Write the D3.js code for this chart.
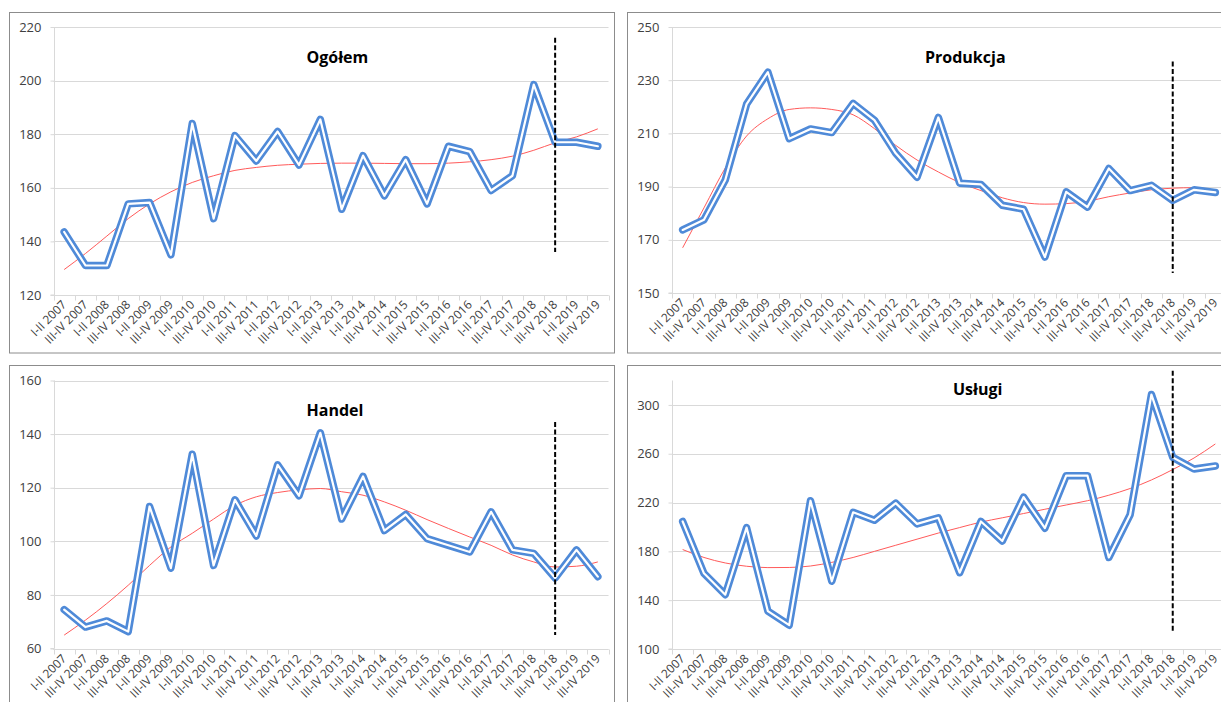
<!DOCTYPE html>
<html>
<head>
<meta charset="utf-8">
<script src="https://cdn.jsdelivr.net/npm/d3@7"></script>
<style>
  html, body { margin: 0; padding: 0; background: #fff; }
  svg { display: block; }
  text { font-family: "Open Sans", "Noto Sans", sans-serif; }
</style>
</head>
<body>
<svg id="chart" width="1221" height="702"></svg>
<script>
// ---------- DATA ----------
const categories = [
  "I-II 2007","III-IV 2007","I-II 2008","III-IV 2008","I-II 2009","III-IV 2009",
  "I-II 2010","III-IV 2010","I-II 2011","III-IV 2011","I-II 2012","III-IV 2012",
  "I-II 2013","III-IV 2013","I-II 2014","III-IV 2014","I-II 2015","III-IV 2015",
  "I-II 2016","III-IV 2016","I-II 2017","III-IV 2017","I-II 2018","III-IV 2018",
  "I-II 2019","III-IV 2019"
];
const dividerCategory = "III-IV 2018";

const titles = ["Ogółem", "Produkcja", "Handel", "Usługi"];

const ogolemValues = [143.5,131,131,154,154.5,135,184,148.5,179.5,170,181,168.5,185.5,152,172,157,170.5,154,175.5,173.5,159,164.5,198.5,177,177,175.5];
const ogolemTrend  = [129.5,135.5,142,148.5,154,158.5,162,164.5,166.5,167.6,168.4,168.8,169.1,169.2,169.2,169.1,169,169,169.2,169.7,170.5,171.8,174,176.8,179,182];
const ogolemTicks  = [120,140,160,180,200,220];
const ogolemDivider = [136, 216];

const produkcjaValues = [173.7,177.5,192.5,221,233,208,211.7,210.3,221.3,215,202.5,193.5,216,191.3,190.8,183,181.5,163.5,188,182.3,196.8,188.5,190.5,184.8,188.8,187.8];
const produkcjaTrend  = [167,182,197,209,215.5,219,219.6,219,217,211.8,205.5,200,195.5,191.5,188.5,185.8,184,183.4,183.6,184.5,186.2,187.6,188.8,189.4,189.6,188.6];
const produkcjaTicks  = [150,170,190,210,230,250];
const produkcjaDivider = [157.5, 237];

const handelValues = [74.5,68,70.3,66.3,113,90,132.5,91,115.5,102,128.5,117,140.5,108.3,124.2,104,110,101,98.5,96,111,96.8,95.5,86.3,96.8,86.8];
const handelTrend  = [65,70.6,76.8,83.6,91,97.9,103,108.3,113.4,116.6,118.2,119.2,119.7,118.5,117.2,114.7,111.6,108.1,104.8,101.6,98.5,94.9,92.3,90.4,90.7,92.3];
const handelTicks  = [60,80,100,120,140,160];
const handelDivider = [65, 144.5];

const uslugiValues = [204.5,162,144.5,199.5,131,119.5,221.5,155.5,212,205.5,219.5,202.5,207.5,162.5,204.5,188.5,224.5,199,242,242,175,210,308.5,257,247.5,250];
const uslugiTrend  = [181.5,175,170.5,167.8,166.7,166.8,168,171,175,180,185,190,195,199.5,204,207.5,211,214.5,218,221.5,226,231.5,238.5,247,256.5,268];
const uslugiTicks  = [100,140,180,220,260,300];
const uslugiDomain = [100, 320];
const uslugiDivider = [114, 328];

// ---------- LAYOUT ----------
const panels = [
  { title: titles[0], values: ogolemValues, trend: ogolemTrend, ticks: ogolemTicks,
    domain: [ogolemTicks[0], ogolemTicks[ogolemTicks.length-1]], divider: ogolemDivider,
    box: {x: 9.5, y: 12.5, w: 605, h: 340.5}, plot: {x: 53.5, y: 27, w: 555, h: 268},
    titlePos: {x: 306.5, y: 63} },
  { title: titles[1], values: produkcjaValues, trend: produkcjaTrend, ticks: produkcjaTicks,
    domain: [produkcjaTicks[0], produkcjaTicks[produkcjaTicks.length-1]], divider: produkcjaDivider,
    box: {x: 627.5, y: 12.5, w: 605, h: 340.5}, plot: {x: 672, y: 27, w: 554, h: 266},
    titlePos: {x: 925, y: 63} },
  { title: titles[2], values: handelValues, trend: handelTrend, ticks: handelTicks,
    domain: [handelTicks[0], handelTicks[handelTicks.length-1]], divider: handelDivider,
    box: {x: 9.5, y: 365.5, w: 605, h: 345}, plot: {x: 53.5, y: 380.5, w: 555, h: 268},
    titlePos: {x: 306.5, y: 416} },
  { title: titles[3], values: uslugiValues, trend: uslugiTrend, ticks: uslugiTicks,
    domain: uslugiDomain, divider: uslugiDivider,
    box: {x: 627.5, y: 365.5, w: 605, h: 345}, plot: {x: 672, y: 380.5, w: 554, h: 268.5},
    titlePos: {x: 953, y: 395} }
];

const svg = d3.select("#chart");
svg.append("rect").attr("width", 1221).attr("height", 702).attr("fill", "#fff");

const GRID = "#d9d9d9";
const LABEL = "#404040";
const BLUE = "#4f8ad8";

panels.forEach(p => {
  const g = svg.append("g");

  // panel border
  g.append("rect")
    .attr("x", p.box.x).attr("y", p.box.y).attr("width", p.box.w).attr("height", p.box.h)
    .attr("fill", "#fff").attr("stroke", "#8c8c8c").attr("stroke-width", 1);

  const x = d3.scaleBand().domain(categories).range([p.plot.x, p.plot.x + p.plot.w]);
  const y = d3.scaleLinear().domain(p.domain).range([p.plot.y + p.plot.h, p.plot.y]);
  const cx = c => x(c) + x.bandwidth() / 2;

  // gridlines
  g.append("g").selectAll("line").data(p.ticks).join("line")
    .attr("x1", p.plot.x).attr("x2", p.plot.x + p.plot.w)
    .attr("y1", d => Math.round(y(d)) + 0.5).attr("y2", d => Math.round(y(d)) + 0.5)
    .attr("stroke", GRID).attr("stroke-width", 1);

  // y axis
  const yAxis = d3.axisLeft(y).tickValues(p.ticks).tickSize(4).tickPadding(9).tickFormat(d3.format("d"));
  const ya = g.append("g").attr("transform", `translate(${Math.round(p.plot.x) + 0.5},0)`).call(yAxis);
  ya.select(".domain").attr("stroke", GRID).attr("d", `M-4,${y(p.domain[0])}H0V${p.plot.y}`);
  ya.selectAll(".tick line").attr("stroke", GRID);
  ya.selectAll(".tick text").attr("fill", LABEL).style("font-size", "13px")
    .style("font-family", "'Open Sans', sans-serif");

  // x axis
  const baseY = Math.round(y(p.domain[0])) + 0.5;
  const xa = g.append("g").attr("transform", `translate(0,${baseY})`);
  xa.append("line").attr("x1", p.plot.x).attr("x2", p.plot.x + p.plot.w)
    .attr("stroke", GRID);
  const boundaries = categories.map(c => x(c)).concat([x(categories[categories.length-1]) + x.bandwidth()]);
  xa.selectAll("line.tk").data(boundaries).join("line").attr("class", "tk")
    .attr("x1", d => Math.round(d) + 0.5).attr("x2", d => Math.round(d) + 0.5)
    .attr("y1", 0).attr("y2", 5).attr("stroke", GRID);
  xa.selectAll("text").data(categories).join("text")
    .attr("transform", d => `translate(${cx(d) + 3},${10}) rotate(-45)`)
    .attr("text-anchor", "end")
    .attr("fill", LABEL)
    .style("font-size", "12px")
    .text(d => d);

  // trend line (red)
  const lineGen = d3.line().x((d, i) => cx(categories[i])).y(d => y(d)).curve(d3.curveMonotoneX);
  g.append("path").datum(p.trend).attr("d", lineGen)
    .attr("fill", "none").attr("stroke", "#ff5a5a").attr("stroke-width", 1);

  // main series (double line)
  const seriesLine = d3.line().x((d, i) => cx(categories[i])).y(d => y(d));
  g.append("path").datum(p.values).attr("d", seriesLine)
    .attr("fill", "none").attr("stroke", BLUE).attr("stroke-width", 7.5)
    .attr("stroke-linejoin", "round").attr("stroke-linecap", "round");
  g.append("path").datum(p.values).attr("d", seriesLine)
    .attr("fill", "none").attr("stroke", "#fff").attr("stroke-width", 2.2)
    .attr("stroke-linejoin", "round").attr("stroke-linecap", "round");

  // divider dashed line
  g.append("line")
    .attr("x1", cx(dividerCategory)).attr("x2", cx(dividerCategory))
    .attr("y1", y(p.divider[1])).attr("y2", y(p.divider[0]))
    .attr("stroke", "#000").attr("stroke-width", 2).attr("stroke-dasharray", "5,2.5");

  // title
  g.append("text").attr("x", p.titlePos.x).attr("y", p.titlePos.y)
    .attr("fill", "#000").style("font-size", "16px").style("font-weight", "bold")
    .text(p.title);
});
</script>
</body>
</html>
